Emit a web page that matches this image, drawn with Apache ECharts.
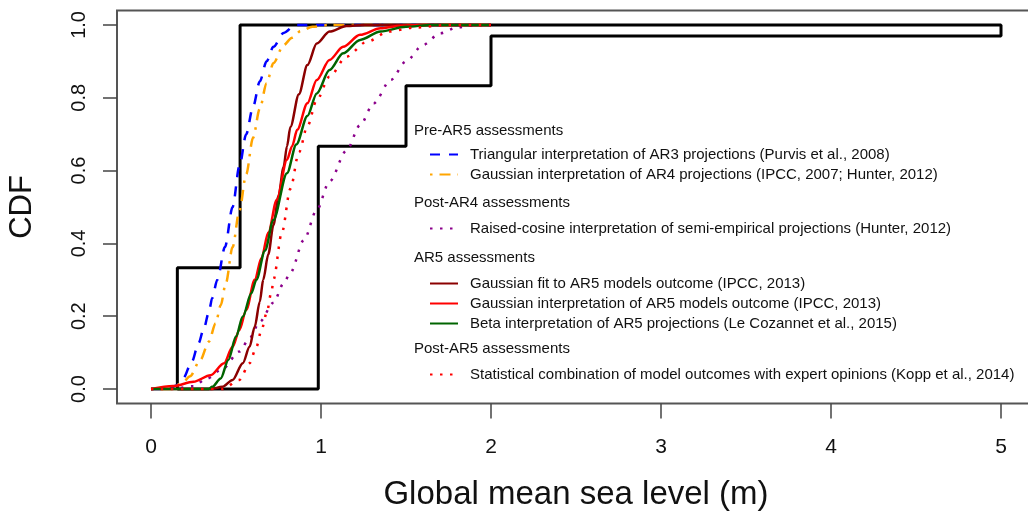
<!DOCTYPE html>
<html>
<head>
<meta charset="utf-8">
<script src="https://cdn.jsdelivr.net/npm/echarts@6/dist/echarts.min.js"></script>
<style>
  html, body { margin: 0; padding: 0; background: #fff; }
  #main { width: 1028px; height: 511px; }
</style>
</head>
<body>
<div id="main"></div>
<script>
var xTicks = [0, 1, 2, 3, 4, 5];
var yTicks = [0, 0.2, 0.4, 0.6, 0.8, 1];

// p-box drawn as one closed outline (upper and lower step bounds)
var pboxX = [0.155, 0.155, 0.524, 0.524, 5, 5, 2, 2, 1.5, 1.5, 0.984, 0.984, 0.155];
var pboxY = [0, 0.333, 0.333, 1, 1, 0.97, 0.97, 0.833, 0.833, 0.667, 0.667, 0, 0];

var triX = [0, 0.1, 0.15, 0.19, 0.24, 0.28, 0.31, 0.34, 0.36, 0.39, 0.435, 0.48, 0.52, 0.56, 0.6, 0.64, 0.68, 0.72, 0.78, 0.85, 2];
var triY = [0, 0, 0.01, 0.03, 0.075, 0.126, 0.165, 0.21, 0.25, 0.3, 0.39, 0.5, 0.612, 0.7, 0.775, 0.845, 0.9, 0.94, 0.978, 1, 1];

var ar4X = [0, 0.12, 0.19, 0.23, 0.29, 0.34, 0.38, 0.41, 0.44, 0.48, 0.52, 0.56, 0.6, 0.64, 0.68, 0.72, 0.78, 0.83, 0.88, 0.95, 1.05, 2];
var ar4Y = [0, 0, 0.02, 0.035, 0.08, 0.13, 0.18, 0.23, 0.29, 0.39, 0.49, 0.59, 0.69, 0.77, 0.84, 0.895, 0.945, 0.965, 0.983, 0.995, 1, 1];

var cosX = [0, 0.15, 0.25, 0.33, 0.42, 0.52, 0.58, 0.64, 0.72, 0.78, 0.82, 0.9, 0.975, 1.05, 1.15, 1.23, 1.31, 1.41, 1.5, 1.6, 1.7, 1.8, 1.9, 2];
var cosY = [0, 0.002, 0.008, 0.029, 0.055, 0.103, 0.14, 0.185, 0.237, 0.29, 0.32, 0.41, 0.492, 0.57, 0.655, 0.725, 0.785, 0.849, 0.9, 0.945, 0.977, 0.993, 0.999, 1];

var fitX = [0, 0.35, 0.42, 0.48, 0.54, 0.58, 0.61, 0.64, 0.66, 0.69, 0.72, 0.75, 0.78, 0.8, 0.82, 0.87, 0.92, 0.975, 1.05, 1.15, 1.25, 2];
var fitY = [0, 0, 0.006, 0.025, 0.071, 0.116, 0.171, 0.24, 0.3, 0.37, 0.45, 0.53, 0.61, 0.667, 0.72, 0.81, 0.89, 0.949, 0.982, 0.997, 1, 1];

var ar5X = [0, 0.13, 0.25, 0.35, 0.43, 0.48, 0.52, 0.56, 0.61, 0.65, 0.69, 0.74, 0.8, 0.83, 0.86, 0.92, 0.975, 1.05, 1.13, 1.23, 1.35, 1.47, 1.6, 2];
var ar5Y = [0, 0.008, 0.02, 0.038, 0.071, 0.116, 0.162, 0.217, 0.3, 0.36, 0.43, 0.52, 0.63, 0.667, 0.712, 0.785, 0.849, 0.904, 0.94, 0.973, 0.991, 0.998, 1, 1];

var betaX = [0, 0.34, 0.36, 0.41, 0.455, 0.5, 0.54, 0.59, 0.62, 0.67, 0.72, 0.8, 0.855, 0.92, 0.975, 1.05, 1.13, 1.23, 1.35, 1.5, 1.65, 2];
var betaY = [0, 0, 0.006, 0.029, 0.08, 0.144, 0.199, 0.263, 0.3, 0.38, 0.464, 0.593, 0.672, 0.75, 0.812, 0.876, 0.922, 0.959, 0.982, 0.995, 1, 1];

var koppX = [0, 0.42, 0.52, 0.58, 0.62, 0.65, 0.68, 0.71, 0.72, 0.77, 0.82, 0.87, 0.92, 0.975, 1.05, 1.15, 1.27, 1.4, 1.55, 1.75, 2];
var koppY = [0, 0, 0.025, 0.071, 0.116, 0.162, 0.208, 0.27, 0.3, 0.43, 0.55, 0.65, 0.722, 0.794, 0.858, 0.913, 0.954, 0.982, 0.993, 1, 1];

var names = [
  'Triangular interpretation of AR3 projections (Purvis et al., 2008)',
  'Gaussian interpretation of AR4 projections (IPCC, 2007; Hunter, 2012)',
  'Raised-cosine interpretation of semi-empirical projections (Hunter, 2012)',
  'Gaussian fit to AR5 models outcome (IPCC, 2013)',
  'Gaussian interpretation of AR5 models outcome (IPCC, 2013)',
  'Beta interpretation of AR5 projections (Le Cozannet et al., 2015)',
  'Statistical combination of model outcomes with expert opinions (Kopp et al., 2014)'
];
var headers = ['Pre-AR5 assessments', 'Post-AR4 assessments', 'AR5 assessments', 'Post-AR5 assessments'];

var FONT = '"Liberation Sans", Arial, sans-serif';

function zip(xs, ys) {
  return xs.map(function (x, i) { return [x, ys[i]]; });
}

function curve(name, xs, ys, color, dash) {
  return {
    name: name,
    type: 'line',
    data: zip(xs, ys),
    showSymbol: false,
    symbol: 'none',
    smooth: 0.3,
    smoothMonotone: 'x',
    lineStyle: { color: color, width: 2.5, type: dash },
    itemStyle: { color: color }
  };
}

var chart = echarts.init(document.getElementById('main'), null, { renderer: 'canvas' });

function legendBlock(top, items) {
  return {
    left: 429,
    top: top,
    orient: 'vertical',
    padding: 0,
    itemWidth: 28,
    itemHeight: 14,
    itemGap: 5,
    selectedMode: false,
    itemStyle: { opacity: 0 },
    data: items,
    textStyle: { fontSize: 15, fontFamily: FONT, color: '#111', padding: [0, 0, 0, 7] }
  };
}

var headerY = [131, 203, 258, 349];

var option = {
  animation: false,
  backgroundColor: '#fff',
  grid: {
    left: 117, top: 10.4, right: -7, bottom: 107.4,
    outerBoundsMode: 'none',
    show: true, borderColor: '#555', borderWidth: 2, backgroundColor: 'transparent'
  },
  xAxis: {
    type: 'value',
    min: -0.2, max: 5.2,
    name: 'Global mean sea level (m)',
    nameLocation: 'middle',
    nameGap: 75,
    nameTextStyle: { fontSize: 33, fontFamily: FONT, color: '#111' },
    axisLine: { show: false, onZero: false },
    splitLine: { show: false },
    axisTick: { show: true, length: 15, customValues: xTicks, lineStyle: { color: '#444', width: 1.5 } },
    axisLabel: { customValues: xTicks, margin: 33, fontSize: 21, fontFamily: FONT, color: '#111' }
  },
  yAxis: {
    type: 'value',
    min: -0.04, max: 1.04,
    name: 'CDF',
    nameLocation: 'middle',
    nameRotate: 90,
    nameGap: 79,
    nameTextStyle: { fontSize: 31, fontFamily: FONT, color: '#111' },
    axisLine: { show: false, onZero: false },
    splitLine: { show: false },
    axisTick: { show: true, length: 14, customValues: yTicks, lineStyle: { color: '#444', width: 1.5 } },
    axisLabel: {
      customValues: yTicks, rotate: 90, margin: 28, fontSize: 20, fontFamily: FONT, color: '#111',
      formatter: function (v) { return v.toFixed(1); }
    }
  },
  legend: [
    legendBlock(147, [names[0], names[1]]),
    legendBlock(221, [names[2]]),
    legendBlock(276, [names[3], names[4], names[5]]),
    legendBlock(367, [names[6]])
  ],
  graphic: headers.map(function (h, i) {
    return {
      type: 'text', x: 414, y: headerY[i],
      style: { text: h, fontSize: 15, fontFamily: FONT, fill: '#111', verticalAlign: 'middle' }
    };
  }),
  series: [
    {
      name: 'p-box',
      type: 'line',
      data: zip(pboxX, pboxY),
      showSymbol: false,
      symbol: 'none',
      lineStyle: { color: '#000', width: 3 },
      z: 1
    },
    curve(names[0], triX, triY, '#0000ff', [10, 9]),
    curve(names[1], ar4X, ar4Y, '#ffa500', [2.5, 7, 11, 7]),
    curve(names[2], cosX, cosY, '#8b008b', [2.5, 7.5]),
    curve(names[3], fitX, fitY, '#8b0000', 'solid'),
    curve(names[4], ar5X, ar5Y, '#ff0000', 'solid'),
    curve(names[5], betaX, betaY, '#006400', 'solid'),
    curve(names[6], koppX, koppY, '#ff0000', [2.5, 7.5])
  ]
};

chart.setOption(option);
</script>
</body>
</html>
